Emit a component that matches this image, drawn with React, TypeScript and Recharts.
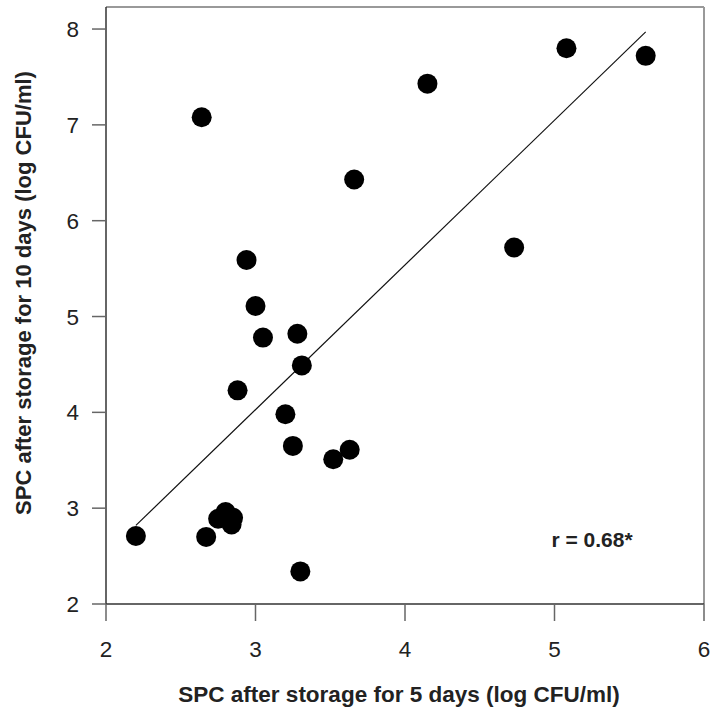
import {
  ScatterChart,
  Scatter,
  XAxis,
  YAxis,
  ReferenceLine,
} from "recharts";

// SPC (log CFU/ml) after 5 days vs after 10 days
const day5 = [
  2.64, 3.66, 2.94, 3.0, 3.05, 3.28, 3.31, 2.88, 3.2, 3.25, 3.52, 3.63,
  2.2, 2.67, 2.75, 2.8, 2.85, 2.84, 3.3, 4.15, 5.08, 5.61, 4.73,
];
const day10 = [
  7.08, 6.43, 5.59, 5.11, 4.78, 4.82, 4.49, 4.23, 3.98, 3.65, 3.51, 3.61,
  2.71, 2.7, 2.89, 2.96, 2.9, 2.83, 2.34, 7.43, 7.8, 7.72, 5.72,
];

// fitted line endpoints
const fitX = [2.2, 5.61];
const fitY = [2.82, 7.97];

const xTicks = [2, 3, 4, 5, 6];
const yTicks = [2, 3, 4, 5, 6, 7, 8];
const yTop = 8.23;

const points = day5.map((x, i) => ({ x, y: day10[i] }));

const FONT = "'Liberation Sans', Arial, sans-serif";
const titleStyle = { fontWeight: "bold", fill: "#222", fontFamily: FONT };

const Dot = (props: any) => {
  const { cx, cy } = props;
  return <circle cx={cx} cy={cy} r={10} fill="#000" />;
};

export default function App() {
  return (
    <div style={{ position: "absolute", left: 0, top: 0, background: "#fff" }}>
      <ScatterChart
        width={717}
        height={713}
        margin={{ top: 7, right: 13, left: 0, bottom: 0 }}
      >
        <XAxis
          type="number"
          dataKey="x"
          domain={[2, 6]}
          ticks={xTicks}
          height={109}
          tickSize={17}
          tickMargin={20}
          axisLine={{ stroke: "#333", strokeWidth: 1.5 }}
          tickLine={{ stroke: "#666", strokeWidth: 1.5 }}
          tick={{ fontSize: 22.5, fill: "#222", fontFamily: FONT }}
        />
        <YAxis
          type="number"
          dataKey="y"
          domain={[2, yTop]}
          ticks={yTicks}
          width={106}
          tickSize={14}
          tickMargin={13}
          axisLine={{ stroke: "#333", strokeWidth: 1.5 }}
          tickLine={{ stroke: "#666", strokeWidth: 1.5 }}
          tick={{ fontSize: 22.5, fill: "#222", fontFamily: FONT }}
        />
        <ReferenceLine y={yTop} stroke="#777" strokeWidth={1.5} />
        <ReferenceLine x={6} stroke="#999" strokeWidth={2} />
        <ReferenceLine
          segment={[
            { x: fitX[0], y: fitY[0] },
            { x: fitX[1], y: fitY[1] },
          ]}
          stroke="#111"
          strokeWidth={1.2}
        />
        <Scatter data={points} shape={<Dot />} isAnimationActive={false} />
        <text x={399} y={702} textAnchor="middle" style={{ ...titleStyle, fontSize: 22.5 }}>
          SPC after storage for 5 days (log CFU/ml)
        </text>
        <text
          x={31}
          y={293}
          textAnchor="middle"
          transform="rotate(-90 31 293)"
          style={{ ...titleStyle, fontSize: 22 }}
        >
          SPC after storage for 10 days (log CFU/ml)
        </text>
        <text
          x={592}
          y={547}
          textAnchor="middle"
          style={{ ...titleStyle, fontSize: 21 }}
        >
          r = 0.68*
        </text>
      </ScatterChart>
    </div>
  );
}
